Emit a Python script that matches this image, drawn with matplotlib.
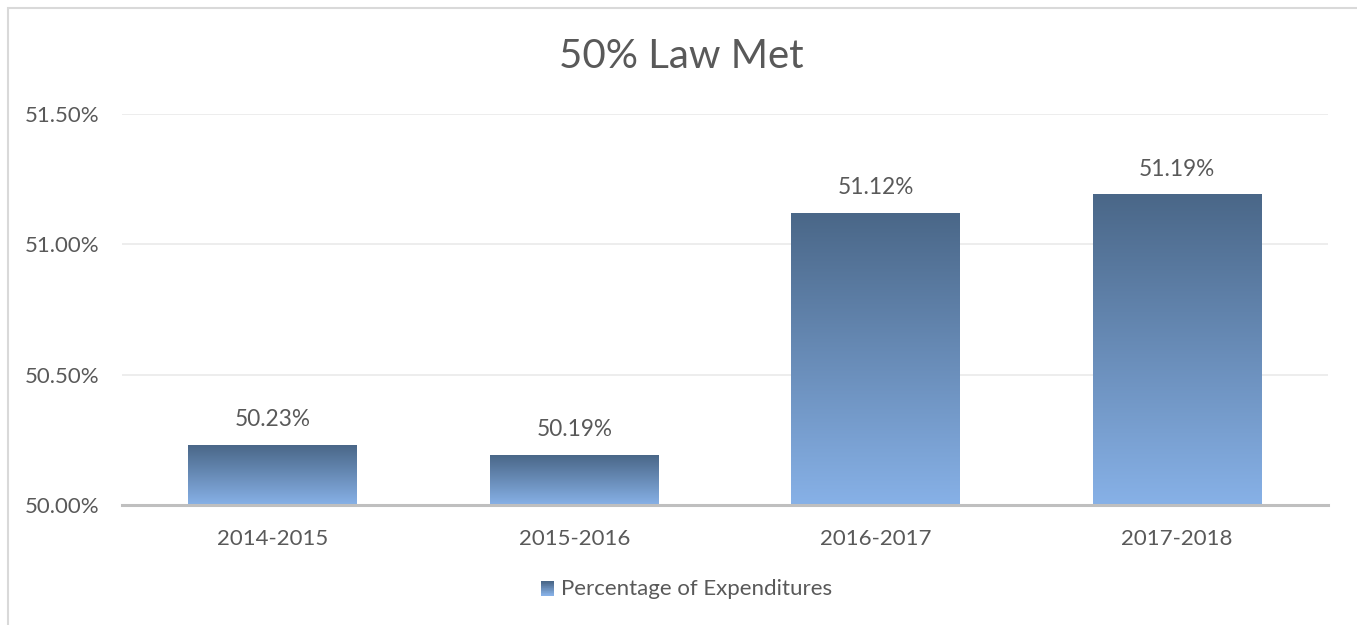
import matplotlib
matplotlib.use("Agg")
import matplotlib.pyplot as plt
import numpy as np
from matplotlib.patches import Rectangle
from matplotlib.legend_handler import HandlerBase
from matplotlib.colors import LinearSegmentedColormap

# data
years = ["2014-2015", "2015-2016", "2016-2017", "2017-2018"]
pct = [50.23, 50.19, 51.12, 51.19]
yticks = [50.0, 50.5, 51.0, 51.5]

plt.rcParams['font.family'] = ['Lato', 'DejaVu Sans']
txt = '#595959'
top_c = '#4a6788'
bot_c = '#87b1e7'
grad = LinearSegmentedColormap.from_list('g', [bot_c, top_c])

fig = plt.figure(figsize=(13.57, 6.25), dpi=100)
ax = fig.add_axes([0.0899, 0.192, 0.8887, 0.6256])

x = np.arange(len(years))
width = 0.56
base = 50.0
bars = ax.bar(x, np.array(pct) - base, width, bottom=base, color='none', zorder=3)
g = np.linspace(0, 1, 256).reshape(-1, 1)
for b in bars:
    x0, y0 = b.get_x(), b.get_y()
    ax.imshow(g, extent=[x0, x0 + b.get_width(), y0, y0 + b.get_height()],
              origin='lower', cmap=grad, aspect='auto', zorder=3)

for xi, v in zip(x, pct):
    ax.annotate(f"{v:.2f}%", (xi, v), xytext=(0, 11), textcoords='offset points',
                ha='center', va='bottom', fontsize=16.3, color=txt)

ax.set_xlim(-0.5, len(years) - 0.5)
ax.set_ylim(50.0, 51.5)
ax.set_yticks(yticks)
ax.set_yticklabels([f"{t:.2f}%" for t in yticks])
ax.set_xticks(x)
ax.set_xticklabels(years)
ax.tick_params(axis='both', length=0, labelsize=16, colors=txt)
ax.tick_params(axis='y', pad=16)
ax.tick_params(axis='x', pad=17)
ax.grid(axis='y', color='#ececec', lw=1.3, zorder=0)
for s in ['left', 'right', 'top']:
    ax.spines[s].set_visible(False)
ax.spines['bottom'].set_color('#bfbfbf')
ax.spines['bottom'].set_linewidth(2.2)
ax.spines['bottom'].set_zorder(4)

fig.text(0.502, 0.91, "50% Law Met", ha='center', va='center', fontsize=29, color=txt)


class GradHandler(HandlerBase):
    def create_artists(self, legend, orig, xd, yd, w, h, fontsize, trans):
        n = 20
        arts = []
        for i in range(n):
            r = Rectangle((xd, yd + h * i / n), w, h / n + 0.1,
                          facecolor=grad(i / (n - 1)), edgecolor='none', transform=trans)
            arts.append(r)
        return arts


handle = Rectangle((0, 0), 1, 1)
fig.legend([handle], ["Percentage of Expenditures"], handler_map={Rectangle: GradHandler()},
           loc='center', bbox_to_anchor=(0.506, 0.058), frameon=False, fontsize=16,
           labelcolor=txt, handlelength=0.6, handleheight=0.6, handletextpad=0.3)

# outer chart border
fig.add_artist(Rectangle((8 / 1357, -0.1), 1.2, 1 - 8 / 625 + 0.1, transform=fig.transFigure,
                         fill=False, edgecolor='#d9d9d9', lw=1.5))

fig.savefig("out.png", dpi=100)
